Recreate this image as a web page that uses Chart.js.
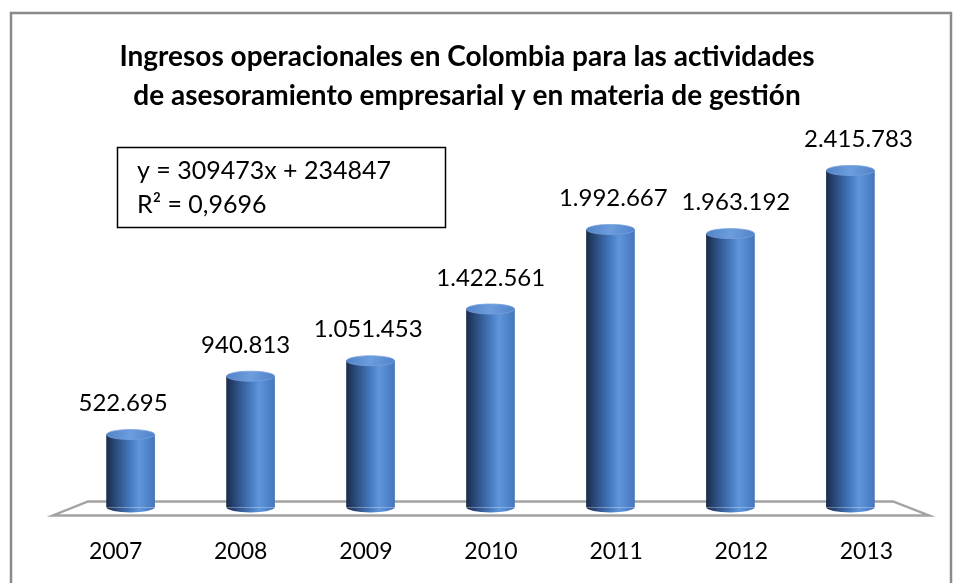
<!DOCTYPE html>
<html lang="es">
<head>
    <meta charset="UTF-8">
    <title>Ingresos operacionales</title>
    <script src="https://cdn.jsdelivr.net/npm/chart.js"></script>
    <style>
        html, body { margin: 0; padding: 0; background: #fff; overflow: hidden; }
        #wrap { width: 956px; height: 613px; }
    </style>
</head>
<body>
<div id="wrap"><canvas id="ingresosChart" width="956" height="613"></canvas></div>
<script>
// Datos
const years = ['2007', '2008', '2009', '2010', '2011', '2012', '2013'];
const ingresos = [522695, 940813, 1051453, 1422561, 1992667, 1963192, 2415783];
const titleLines = [
    'Ingresos operacionales en Colombia para las actividades',
    'de asesoramiento empresarial y en materia de gestión'
];
const trendLines = ['y = 309473x + 234847', 'R² = 0,9696'];

const FONT = 'Lato, "Open Sans", sans-serif';
const CAP_RY = 5;

// formato con punto de miles
function fmt(n) {
    return n.toString().replace(/\B(?=(\d{3})+(?!\d))/g, '.');
}

// gradiente horizontal para el cuerpo del cilindro
function bodyGradient(c, left, right) {
    const g = c.createLinearGradient(left, 0, right, 0);
    g.addColorStop(0, '#1b2d4a');
    g.addColorStop(0.2, '#2b4c7f');
    g.addColorStop(0.5, '#467ac0');
    g.addColorStop(0.68, '#5f95db');
    g.addColorStop(0.85, '#5085cc');
    g.addColorStop(1, '#4676bb');
    return g;
}

const cylinderPlugin = {
    id: 'cylinders',
    beforeDraw(chart) {
        const c = chart.ctx;
        // marco exterior
        c.save();
        c.strokeStyle = '#8a8a8a';
        c.lineWidth = 2.5;
        c.strokeRect(11, 13, 940, 620);
        // título centrado en el marco
        c.fillStyle = '#000';
        c.font = 'bold 28px ' + FONT;
        c.textAlign = 'center';
        c.textBaseline = 'middle';
        c.fillText(titleLines[0], 467, 57);
        c.fillText(titleLines[1], 467, 96);
        c.restore();
    },
    beforeDatasetsDraw(chart) {
        // piso en perspectiva
        const c = chart.ctx;
        const area = chart.chartArea;
        const base = chart.scales.y.getPixelForValue(0);
        c.save();
        c.strokeStyle = '#a3a3a3';
        c.lineWidth = 2.5;
        c.beginPath();
        c.moveTo(area.left + 35, base - 6);
        c.lineTo(area.right - 36, base - 6);
        c.lineTo(area.right, base + 8);
        c.lineTo(area.left, base + 8);
        c.closePath();
        c.stroke();
        c.restore();
    },
    afterDatasetsDraw(chart) {
        const c = chart.ctx;
        const meta = chart.getDatasetMeta(0);
        const tick = chart.scales.x2;
        c.save();
        meta.data.forEach((bar, i) => {
            const half = bar.width / 2;
            const left = bar.x - half, right = bar.x + half;
            // base redondeada
            c.fillStyle = bodyGradient(c, left, right);
            c.beginPath();
            c.ellipse(bar.x, bar.base, half, CAP_RY, 0, 0, Math.PI);
            c.fill();
            // tapa superior
            const cap = c.createLinearGradient(left, bar.y - CAP_RY, right, bar.y + CAP_RY);
            cap.addColorStop(0, '#5283c8');
            cap.addColorStop(0.5, '#6c9ddd');
            cap.addColorStop(1, '#5082c8');
            c.fillStyle = cap;
            c.beginPath();
            c.ellipse(bar.x, bar.y, half, CAP_RY, 0, 0, Math.PI * 2);
            c.fill();
            c.strokeStyle = 'rgba(120,160,220,0.8)';
            c.lineWidth = 1;
            c.stroke();

            // etiqueta de valor
            const tx = tick.getPixelForValue(i);
            c.fillStyle = '#000';
            c.font = '24px ' + FONT;
            c.textAlign = 'center';
            c.textBaseline = 'middle';
            c.fillText(fmt(ingresos[i]), (bar.x + tx) / 2, bar.y - CAP_RY - 26);
        });
        c.restore();
    },
    afterDraw(chart) {
        // cuadro de la línea de tendencia
        const c = chart.ctx;
        c.save();
        c.strokeStyle = '#000';
        c.lineWidth = 1.5;
        c.strokeRect(117.5, 147.5, 328, 80);
        c.fillStyle = '#000';
        c.font = '25px ' + FONT;
        c.textAlign = 'left';
        c.textBaseline = 'middle';
        c.fillText(trendLines[0], 137, 171);
        c.fillText(trendLines[1], 137, 205);
        c.restore();
    }
};

const ctx = document.getElementById('ingresosChart').getContext('2d');
new Chart(ctx, {
    type: 'bar',
    data: {
        datasets: [{
            data: ingresos.map((v, i) => ({ x: i, y: v })),
            xAxisID: 'x',
            yAxisID: 'y',
            barThickness: 48,
            borderWidth: 0,
            backgroundColor: (context) => {
                const chart = context.chart;
                if (!chart.chartArea) return '#4a7cc0';
                const cx = chart.scales.x.getPixelForValue(context.dataIndex);
                return bodyGradient(chart.ctx, cx - 24, cx + 24);
            }
        }]
    },
    options: {
        responsive: false,
        animation: false,
        layout: { padding: { top: 129, bottom: 18, left: 53, right: 27 } },
        plugins: {
            legend: { display: false },
            tooltip: { enabled: false },
            title: { display: false }
        },
        scales: {
            x: { type: 'linear', display: false, offset: false, min: -0.6467, max: 6.655 },
            x2: {
                type: 'category',
                position: 'bottom',
                labels: years,
                offset: true,
                grid: { display: false, drawTicks: false },
                border: { display: false },
                ticks: { color: '#000', padding: 30, font: { family: FONT, size: 23, lineHeight: 1.2 } }
            },
            y: { display: false, min: 0, max: 2713000 }
        }
    },
    plugins: [cylinderPlugin]
});
</script>
</body>
</html>
